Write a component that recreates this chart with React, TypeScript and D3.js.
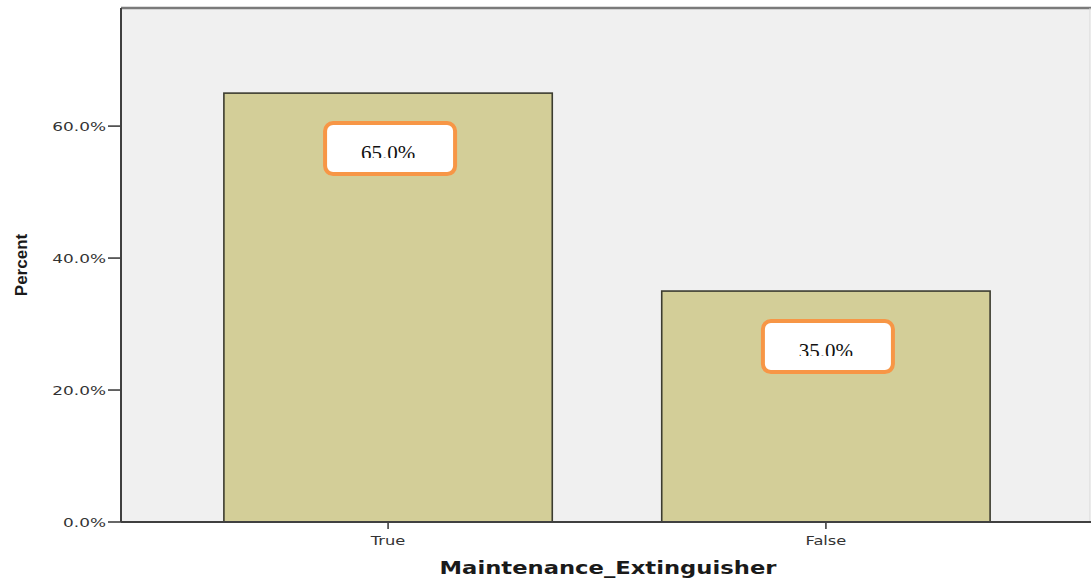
import React from "react";
import * as d3 from "d3";

const categories = ["True", "False"];
const percents = [65.0, 35.0];
const yTicks = [0, 20, 40, 60];

const W = 1091;
const H = 581;
const plot = { left: 121, right: 1090, top: 8, bottom: 522 };

// Horizontally stretched text, used for the wide axis lettering.
function WideText(props: {
  x: number;
  y: number;
  sx: number;
  anchor: "start" | "middle" | "end";
  size: number;
  bold?: boolean;
  fill: string;
  dy?: string;
  children: React.ReactNode;
}) {
  return (
    <g transform={`translate(${props.x},${props.y}) scale(${props.sx},1)`}>
      <text
        textAnchor={props.anchor}
        dy={props.dy}
        fontFamily="DejaVu Sans, Verdana, sans-serif"
        fontWeight={props.bold ? "bold" : "normal"}
        fontSize={props.size}
        fill={props.fill}
      >
        {props.children}
      </text>
    </g>
  );
}

export default function App() {
  const x = d3
    .scaleBand<string>()
    .domain(categories)
    .range([plot.left, 1093])
    .paddingInner(0.25)
    .paddingOuter(0.235);
  const y = d3.scaleLinear().domain([0, 77.9]).range([plot.bottom, plot.top]);
  const fmt = (v: number) => d3.format(".1f")(v) + "%";

  const boxW = 130;
  const boxH = 51;
  const boxCx = (i: number) => x(categories[i])! + x.bandwidth() / 2 + 2;
  const boxTop = (i: number) => y(percents[i]) + 30;

  return (
    <svg
      width={W}
      height={H}
      style={{ position: "absolute", left: 0, top: 0, background: "#fff" }}
    >
      <defs>
        {categories.map((c, i) => (
          <clipPath id={`clip-${i}`} key={c}>
            <rect x={boxCx(i) - boxW / 2} y={boxTop(i)} width={boxW} height={35} />
          </clipPath>
        ))}
      </defs>
      {/* plot background */}
      <rect
        x={plot.left}
        y={plot.top}
        width={plot.right - plot.left}
        height={plot.bottom - plot.top}
        fill="#f0f0f0"
      />
      <line x1={plot.left} x2={W} y1={plot.top} y2={plot.top} stroke="#7a7a7a" strokeWidth={2.5} />
      <line x1={plot.right} x2={plot.right} y1={plot.top} y2={plot.bottom} stroke="#d8d8d8" strokeWidth={1} />

      {/* bars */}
      {categories.map((c, i) => (
        <rect
          key={c}
          x={x(c)}
          y={y(percents[i])}
          width={x.bandwidth()}
          height={plot.bottom - y(percents[i])}
          fill="#d3ce98"
          stroke="#3c3c30"
          strokeWidth={1.6}
        />
      ))}

      {/* axes */}
      <line x1={plot.left} x2={plot.left} y1={plot.top} y2={plot.bottom} stroke="#404040" strokeWidth={2} />
      <line x1={plot.left} x2={W} y1={plot.bottom} y2={plot.bottom} stroke="#404040" strokeWidth={2} />
      {yTicks.map((t) => (
        <g key={t}>
          <line x1={plot.left - 13} x2={plot.left} y1={y(t)} y2={y(t)} stroke="#404040" strokeWidth={1.6} />
          <WideText x={plot.left - 15} y={y(t)} dy="0.38em" sx={1.3} anchor="end" size={13} fill="#333">
            {fmt(t)}
          </WideText>
        </g>
      ))}
      {categories.map((c) => {
        const cx = x(c)! + x.bandwidth() / 2;
        return (
          <g key={c}>
            <line x1={cx} x2={cx} y1={plot.bottom} y2={plot.bottom + 7} stroke="#404040" strokeWidth={1.6} />
            <WideText x={cx} y={545} sx={1.25} anchor="middle" size={13} fill="#333">
              {c}
            </WideText>
          </g>
        );
      })}

      {/* axis titles */}
      <WideText x={608} y={574} sx={1.26} anchor="middle" size={18} bold fill="#1a1a1a">
        Maintenance_Extinguisher
      </WideText>
      <text
        transform="translate(27,265) rotate(-90)"
        textAnchor="middle"
        fontFamily="Liberation Sans Narrow, Liberation Sans, Arial, sans-serif"
        fontWeight="bold"
        fontSize={17}
        fill="#1a1a1a"
      >
        Percent
      </text>

      {/* value labels */}
      {categories.map((c, i) => (
        <g key={c}>
          <rect
            x={boxCx(i) - boxW / 2}
            y={boxTop(i)}
            width={boxW}
            height={boxH}
            rx={8}
            fill="#ffffff"
            stroke="#f79646"
            strokeWidth={4}
          />
          <text
            x={boxCx(i) - 2}
            y={boxTop(i) + 37}
            textAnchor="middle"
            fontFamily="Liberation Serif, Times New Roman, serif"
            fontSize={21}
            fill="#111"
            clipPath={`url(#clip-${i})`}
          >
            {fmt(percents[i])}
          </text>
        </g>
      ))}
    </svg>
  );
}
